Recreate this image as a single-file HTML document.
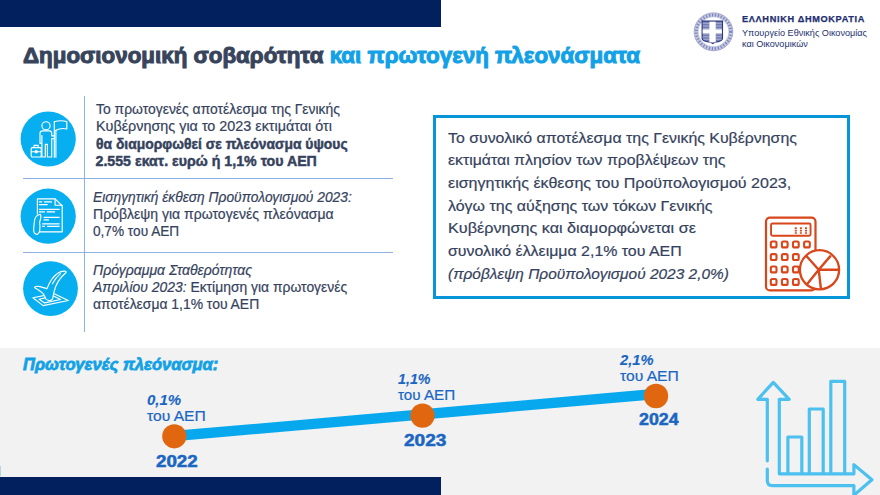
<!DOCTYPE html>
<html lang="el">
<head>
<meta charset="utf-8">
<title>Δημοσιονομική σοβαρότητα</title>
<style>
*{margin:0;padding:0;box-sizing:border-box}
html,body{width:880px;height:495px;overflow:hidden;background:#fff}
body{position:relative;font-family:"Liberation Sans",Arial,sans-serif;color:#35425d}
.a{position:absolute;white-space:nowrap;line-height:1;transform-origin:0 0}
.navy{background:#021f5e}
#title{-webkit-text-stroke:1px currentColor;left:23px;top:45.3px;font-size:21.2px;transform:scaleX(1.055);font-weight:bold;color:#37445c}
#title .b{color:#12a1e6;-webkit-text-stroke:1px #12a1e6}
.logo1{-webkit-text-stroke:0.25px #222f70;font-weight:bold;font-size:9.2px;letter-spacing:0.66px;color:#222f70}
.logo2{font-size:9.1px;color:#222f70}
.vline{position:absolute;left:84px;top:96px;width:1px;height:236px;background:#8fb2e4}
.hline{position:absolute;left:23px;width:370px;height:1px;background:#8fb2e4}
.t1{font-size:14.2px;color:#35425d;-webkit-text-stroke:0.2px #35425d}
.t1[style*="bold"]{-webkit-text-stroke:0.45px #35425d}
.bx{position:absolute;left:433px;top:115px;width:417px;height:184px;border:3px solid #0795da}
.t2{font-size:15.3px;color:#35425d;-webkit-text-stroke:0.2px #35425d}
.gray{position:absolute;left:0;top:348px;width:880px;height:147px;background:#f2f2f2}
.tl{color:#1a66c2}
.pct{font-size:14px;font-weight:bold;font-style:italic;-webkit-text-stroke:0.1px #1a66c2}
.aep{font-size:14px;-webkit-text-stroke:0.2px #1a66c2}
.yr{font-size:16px;font-weight:bold;-webkit-text-stroke:0.5px #1a66c2}
</style>
</head>
<body>
<div class="a navy" style="left:0;top:0;width:441px;height:27px"></div>

<div class="a" id="title">Δημοσιονομική σοβαρότητα <span class="b">και πρωτογενή πλεονάσματα</span></div>

<!-- logo -->
<svg class="a" style="left:0;top:0" width="880" height="60">
  <defs>
    <pattern id="hatch" width="2" height="1.6" patternUnits="userSpaceOnUse">
      <rect width="2" height="1.6" fill="#a3a9d0"/>
      <rect width="2" height="0.8" fill="#6c75ad"/>
    </pattern>
  </defs>
  <ellipse cx="713.5" cy="31.8" rx="17.2" ry="16.8" fill="none" stroke="#c3c7e1" stroke-width="4.6"/>
  <ellipse cx="713.5" cy="31.8" rx="17.2" ry="16.8" fill="none" stroke="#7d84b8" stroke-width="3" stroke-dasharray="1.2 1.8"/>
  <ellipse cx="713.5" cy="31.8" rx="19.4" ry="19" fill="none" stroke="#8d93c2" stroke-width="0.6"/>
  <path d="M702.1 21.1 H722.5 V38.6 Q722.5 41.6 714.6 42.2 L712.8 43.6 L711 42.2 Q702.1 41.6 702.1 38.6 Z" fill="url(#hatch)" stroke="#2c3680" stroke-width="1.1"/>
  <rect x="709.4" y="21.7" width="6.3" height="20.6" fill="#fff"/>
  <rect x="702.7" y="29.4" width="19.2" height="4" fill="#fff"/>
</svg>
<div class="a logo1" style="left:742px;top:14.9px">ΕΛΛΗΝΙΚΗ ΔΗΜΟΚΡΑΤΙΑ</div>
<div class="a logo2" style="left:742px;top:29.4px">Υπουργείο Εθνικής Οικονομίας</div>
<div class="a logo2" style="left:742px;top:39.7px">και Οικονομικών</div>

<!-- left column -->
<div class="vline"></div>
<div class="hline" style="top:177.5px"></div>
<div class="hline" style="top:252px"></div>

<svg class="a" style="left:0;top:0" width="100" height="330">
  <g fill="#08aff0">
    <circle cx="48.2" cy="139" r="27.6"/>
    <circle cx="48.2" cy="216.2" r="27.6"/>
    <circle cx="50.5" cy="288.6" r="27.4"/>
  </g>
  <g fill="none" stroke="#fff" stroke-width="1.15" stroke-linejoin="round" stroke-linecap="round">
    <!-- icon 1: person with flag -->
    <circle cx="46" cy="125.8" r="4.1"/>
    <path d="M40 143.3 V133.2 Q40 130.8 42.4 130.8 H49.4 Q51.7 130.8 51.7 133.2 V135.9 H54.2 M54.2 138.6 H51.7 V157 H47.4 V144.4 H45.3 V157 H41.9 V143.3 H40 M41.9 143.3 V135.5"/>
    <path d="M54.3 157.2 V121.8 M55.9 157.2 V130.3"/>
    <path d="M54.3 121.8 Q60.5 119.8 66.8 121.6 V129 Q61 127.6 55.9 130.3"/>
    <rect x="31.2" y="147.6" width="10" height="9.4" rx="1"/>
    <path d="M34 147.6 V145.4 H38.2 V147.6 M31.2 151.7 H41.2"/>
    <rect x="35.3" y="150.8" width="1.8" height="1.8" fill="#fff"/>
    <!-- icon 2: document with hand -->
    <path d="M37.4 214 V198.9 H55.1 L62.2 206 V231.8 H39.5"/>
    <path d="M55.1 198.9 V205.2 H62.2"/>
    <path d="M40.4 214.3 C37.2 215 35.2 217 34.6 220 L33.6 229 C33.4 232 35 234.2 37.4 234.5 L39.2 232.4 C40.4 229.4 40 225.5 39.6 222.4 C40.6 219.4 41.6 216.2 40.4 214.3 Z"/>
  </g>
  <g stroke="#fff" stroke-width="1.25" stroke-linecap="butt">
    <path d="M38.9 201.8 H42.2 M44 201.8 H52 M38.9 204.5 H47.6 M38.9 209.3 H59.6 M38.9 211.8 H44.9 M46.7 211.8 H55.1 M43.6 217.3 H59.6 M43.6 219.8 H48.9 M42.2 223.8 H59.6 M42.2 226.4 H44.9 M47.1 226.4 H59.6"/>
  </g>
  <g fill="none" stroke="#fff" stroke-width="1.15" stroke-linejoin="round" stroke-linecap="round">
    <!-- icon 3: check + ballot -->
    <path d="M32.9 297.8 L53.7 293.6 L68.3 300.5 L43.1 305.6 Z"/>
    <path d="M39.2 299.3 L53.5 295.9 L60.6 299.5 L44.6 302.9 Z"/>
    <path fill="#08aff0" d="M34.4 287.4 C35.5 286.2 37.5 286 40 286.6 L47 288.6 C49.5 282 53 276.5 57.5 273.5 C60 271.8 63 270.8 65.6 271.3 C66.5 271.6 66.3 272.4 65.6 273 C61.5 276.5 57.6 281.5 55.5 287 C54.2 290.5 53.4 294.5 52.8 298.1 C52.2 299.8 50.8 300.6 49.5 300.6 C47.8 300.6 46.8 300 46 299 C44.8 296.5 44 294.5 42.6 293.2 C40.6 291 37.5 289.2 34.4 287.4 Z"/>
    <path d="M52.4 283.8 Q55.6 277.6 60.5 273.6"/>
  </g>
</svg>

<div class="a t1" style="left:95.5px;top:101.7px;transform:scaleX(0.98)">Το πρωτογενές αποτέλεσμα της Γενικής</div>
<div class="a t1" style="left:95.5px;top:119.2px;transform:scaleX(1.0125)">Κυβέρνησης για το 2023 εκτιμάται ότι</div>
<div class="a t1" style="left:95.5px;top:136.8px;font-weight:bold;transform:scaleX(0.979)">θα διαμορφωθεί σε πλεόνασμα ύψους</div>
<div class="a t1" style="left:95.5px;top:154px;font-weight:bold">2.555 εκατ. ευρώ ή 1,1% του ΑΕΠ</div>

<div class="a t1" style="left:92.5px;top:189.8px;font-style:italic;transform:scaleX(0.971)">Εισηγητική έκθεση Προϋπολογισμού 2023:</div>
<div class="a t1" style="left:92.5px;top:207.3px;transform:scaleX(0.989)">Πρόβλεψη για πρωτογενές πλεόνασμα</div>
<div class="a t1" style="left:92.5px;top:224.3px;transform:scaleX(0.961)">0,7% του ΑΕΠ</div>

<div class="a t1" style="left:92.5px;top:263px;font-style:italic;transform:scaleX(0.988)">Πρόγραμμα Σταθερότητας</div>
<div class="a t1" style="left:92.5px;top:280.2px;transform:scaleX(0.979)"><i>Απριλίου 2023:</i> Εκτίμηση για πρωτογενές</div>
<div class="a t1" style="left:92.5px;top:297px;transform:scaleX(0.98)">αποτέλεσμα 1,1% του ΑΕΠ</div>

<!-- right box -->
<div class="bx"></div>
<div class="a t2" style="left:447.7px;top:129.85px;transform:scaleX(1.038)">Το συνολικό αποτέλεσμα της Γενικής Κυβέρνησης</div>
<div class="a t2" style="left:447.7px;top:152.45px;transform:scaleX(1.035)">εκτιμάται πλησίον των προβλέψεων της</div>
<div class="a t2" style="left:447.7px;top:175.15px;transform:scaleX(1.048)">εισηγητικής έκθεσης του Προϋπολογισμού 2023,</div>
<div class="a t2" style="left:447.7px;top:197.75px;transform:scaleX(1.044)">λόγω της αύξησης των τόκων Γενικής</div>
<div class="a t2" style="left:447.7px;top:220.35px;transform:scaleX(1.058)">Κυβέρνησης και διαμορφώνεται σε</div>
<div class="a t2" style="left:447.7px;top:243.05px;transform:scaleX(1.04)">συνολικό έλλειμμα 2,1% του ΑΕΠ</div>
<div class="a t2" style="left:447.7px;top:265.65px;font-style:italic;transform:scaleX(1.009)">(πρόβλεψη Προϋπολογισμού 2023 2,0%)</div>

<!-- calculator -->
<svg class="a" style="left:0;top:0" width="880" height="300">
  <g fill="none" stroke="#d8461a" stroke-linejoin="round">
    <rect x="766" y="217.6" width="49.5" height="72.8" rx="4" stroke-width="2.2"/>
    <rect x="771.05" y="223.55" width="39.5" height="12.2" rx="1.5" stroke-width="1.9"/>
  </g>
  <g stroke="#d8461a" stroke-width="2" stroke-dasharray="1.8 0.7">
    <path d="M795.8 227.2 V233.7 M800.9 227.2 V233.7 M806 227.2 V233.7"/>
  </g>
  <g fill="none" stroke="#d8461a" stroke-width="2.1">
    <rect x="770.8" y="241.5" width="5.7" height="5.9" rx="1.5"/>
    <rect x="781.9" y="241.5" width="5.7" height="5.9" rx="1.5"/>
    <rect x="793.0" y="241.5" width="5.7" height="5.9" rx="1.5"/>
    <rect x="804.1" y="241.5" width="5.7" height="5.9" rx="1.5"/>
    <rect x="770.8" y="254.1" width="5.7" height="5.9" rx="1.5"/>
    <rect x="781.9" y="254.1" width="5.7" height="5.9" rx="1.5"/>
    <rect x="793.0" y="254.1" width="5.7" height="5.9" rx="1.5"/>
    <rect x="770.8" y="266.5" width="5.7" height="5.9" rx="1.5"/>
    <rect x="781.9" y="266.5" width="5.7" height="5.9" rx="1.5"/>
    <rect x="793.0" y="266.5" width="5.7" height="5.9" rx="1.5"/>
    <rect x="770.8" y="279.0" width="5.7" height="5.9" rx="1.5"/>
    <rect x="781.9" y="279.0" width="5.7" height="5.9" rx="1.5"/>
    <rect x="793.0" y="279.0" width="5.7" height="5.9" rx="1.5"/>
  </g>
  <circle cx="819.5" cy="269.8" r="19.6" fill="#fff" stroke="#d8461a" stroke-width="2.3"/>
  <path d="M806.4 256 L818.7 269.7 L830.8 255.6 M818.7 269.7 H838 M818.7 269.7 L820.9 288.6 M818.7 269.7 L806.2 285.2" fill="none" stroke="#d8461a" stroke-width="2.4"/>
</svg>

<!-- gray section -->
<div class="gray"></div>
<div class="a navy" style="left:0;top:477px;width:441px;height:18px"></div>
<div class="a" style="left:0;top:466px;width:1px;height:10px;background:#b4d6e2"></div>
<div class="a" style="left:22.5px;top:355.6px;font-size:17.3px;font-weight:bold;font-style:italic;color:#12a1e6;-webkit-text-stroke:0.8px #12a1e6;transform:scaleX(0.958)">Πρωτογενές πλεόνασμα:</div>

<svg class="a" style="left:0;top:340px" width="880" height="155" viewBox="0 340 880 155">
  <line x1="174.3" y1="436" x2="656" y2="394" stroke="#08a8ee" stroke-width="10.3"/>
  <g fill="#e0670f">
    <circle cx="174.3" cy="436.3" r="12.1"/>
    <circle cx="422.5" cy="415.6" r="12.2"/>
    <circle cx="656" cy="396" r="12.2"/>
  </g>
  <!-- bar chart icon -->
  <g fill="none" stroke="#4cc0ef" stroke-width="3.2" stroke-linejoin="round" stroke-linecap="round">
    <path d="M767.3 460.8 V399.3 H757.8 L773.3 382.4 L789.2 399.3 H779.3 V473.8 H853.9 V464.6 L871.9 479.8 L853.9 495.2"/>
    <path d="M767.3 469 V480.5 Q767.3 485.6 772.4 485.6 H853.9 V497"/>
    <path d="M787.9 473.5 V437 H801.8 V473.5 M809.3 473.5 V409 H823.2 V473.5 M830.8 473.5 V381.4 H844.7 V473.5"/>
  </g>
</svg>

<div class="a tl pct" style="left:147px;top:392.8px;transform:scaleX(1.07)">0,1%</div>
<div class="a tl aep" style="left:147px;top:409px;transform:scaleX(1.115)">του ΑΕΠ</div>
<div class="a tl yr" style="left:156px;top:453.66px;transform:scaleX(1.172)">2022</div>

<div class="a tl pct" style="left:398px;top:371.5px;transform:scaleX(1.02)">1,1%</div>
<div class="a tl aep" style="left:397.5px;top:387.8px;transform:scaleX(1.085)">του ΑΕΠ</div>
<div class="a tl yr" style="left:403.5px;top:433.36px;transform:scaleX(1.19)">2023</div>

<div class="a tl pct" style="left:620px;top:352.8px;transform:scaleX(1.05)">2,1%</div>
<div class="a tl aep" style="left:620.3px;top:369.2px;transform:scaleX(1.115)">του ΑΕΠ</div>
<div class="a tl yr" style="left:639px;top:411.76px;transform:scaleX(1.111)">2024</div>

</body>
</html>
